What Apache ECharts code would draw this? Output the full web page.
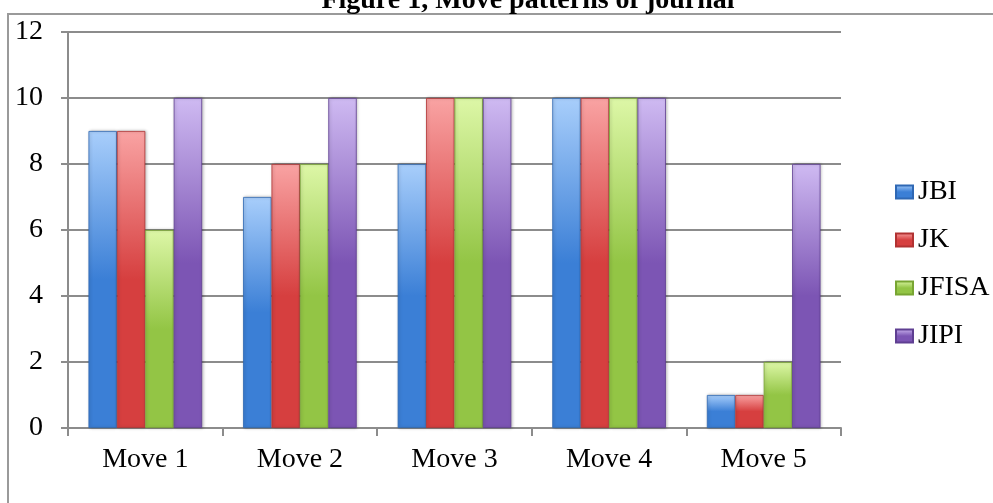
<!DOCTYPE html>
<html>
<head>
<meta charset="utf-8">
<script src="https://cdn.jsdelivr.net/npm/echarts@6/dist/echarts.min.js"></script>
<style>html,body{margin:0;padding:0;background:#fff}#c{width:993px;height:503px}</style>
</head>
<body>
<div id="c"></div>
<script>
const categories = ['Move 1', 'Move 2', 'Move 3', 'Move 4', 'Move 5'];
const seriesNames = ['JBI', 'JK', 'JFISA', 'JIPI'];
const jbi = [9, 7, 8, 10, 1];
const jk = [9, 8, 10, 10, 1];
const jfisa = [6, 8, 10, 10, 2];
const jipi = [10, 10, 10, 10, 8];
const yTicks = [0, 2, 4, 6, 8, 10, 12];
const titleText = 'Figure 1, Move patterns of journal';

const palette = [
  ['#a8cefb', '#3b7fd6', '#2f68b4'],
  ['#f9a3a3', '#d63f3f', '#b13232'],
  ['#ddf7a7', '#93c545', '#78a532'],
  ['#cfbaf2', '#7c55b4', '#5f3f92']
];
const FONT = '"Liberation Serif", "Times New Roman", serif';

function grad(c) {
  return new echarts.graphic.LinearGradient(0, 0, 0, 1, [
    {offset: 0, color: c[0]},
    {offset: 0.5, color: c[1]},
    {offset: 1, color: c[1]}
  ]);
}

const dataSets = [jbi, jk, jfisa, jipi];
const chart = echarts.init(document.getElementById('c'), null, {renderer: 'canvas'});
chart.setOption({
  animation: false,
  backgroundColor: '#fff',
  graphic: [
    {type: 'rect', shape: {x: 8, y: 14, width: 1100, height: 600}, style: {fill: 'none', stroke: '#9a9a9a', lineWidth: 2}, z: 0},
    {type: 'text', x: 528, y: -13, style: {text: titleText, font: 'bold 28px ' + FONT, fill: '#000', textAlign: 'center', textVerticalAlign: 'top'}, z: 10}
  ],
  legend: {
    orient: 'vertical',
    left: 895,
    top: 178,
    padding: 0,
    itemWidth: 17,
    itemHeight: 13,
    itemGap: 20,
    icon: 'rect',
    textStyle: {fontFamily: FONT, fontSize: 28, color: '#000'},
    data: seriesNames
  },
  grid: {left: 68, top: 32, right: 152, bottom: 75, containLabel: false},
  xAxis: {
    type: 'category',
    data: categories,
    axisLine: {lineStyle: {color: '#8c8c8c', width: 2}},
    axisTick: {show: true, inside: false, length: 8, lineStyle: {color: '#8c8c8c', width: 2}},
    axisLabel: {fontFamily: FONT, fontSize: 28, color: '#000', margin: 18}
  },
  yAxis: {
    type: 'value',
    min: 0, max: 12, interval: 2,
    axisLine: {show: true, lineStyle: {color: '#8c8c8c', width: 2}},
    axisTick: {show: true, inside: false, length: 7, lineStyle: {color: '#8c8c8c', width: 2}},
    splitLine: {show: true, lineStyle: {color: '#8c8c8c', width: 2}},
    axisLabel: {fontFamily: FONT, fontSize: 28, color: '#000', margin: 25,
      formatter: v => yTicks.includes(v) ? String(v) : ''}
  },
  series: seriesNames.map((n, i) => ({
    name: n,
    type: 'bar',
    data: dataSets[i],
    barGap: '0%',
    barCategoryGap: '26.5%',
    itemStyle: {color: grad(palette[i]), borderColor: palette[i][2], borderWidth: 0.8,
      shadowColor: 'rgba(0,0,0,0.25)', shadowBlur: 3, shadowOffsetX: 1},
    emphasis: {disabled: true}
  }))
});
</script>
</body>
</html>
